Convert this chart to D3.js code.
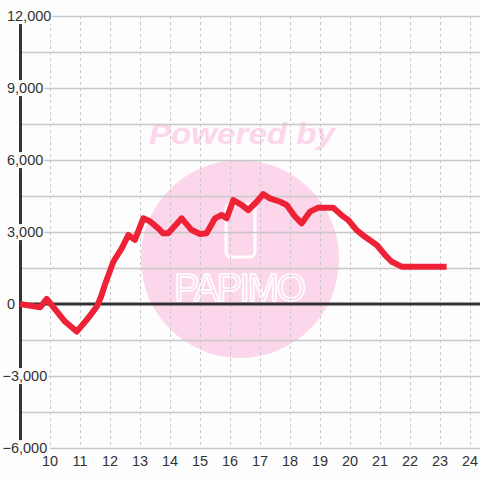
<!DOCTYPE html>
<html>
<head>
<meta charset="utf-8">
<script src="https://cdn.jsdelivr.net/npm/d3@7"></script>
<style>
  html, body { margin: 0; padding: 0; background: #fdfdfd; }
  svg { display: block; }
  text { font-family: "Liberation Sans", Arial, sans-serif; }
</style>
</head>
<body>
<svg width="480" height="480"></svg>
<script>
// hours (decimal) and values
const hours = [9.00, 9.67, 9.89, 10.28, 10.50, 10.89, 11.22, 11.56, 11.70, 11.83,
  12.11, 12.39, 12.61, 12.83, 13.11, 13.33, 13.61, 13.77, 13.94, 14.39,
  14.72, 15.00, 15.22, 15.50, 15.72, 15.89, 16.11, 16.39, 16.61, 16.89,
  17.11, 17.33, 17.67, 17.89, 18.17, 18.39, 18.67, 18.94, 19.44, 19.78,
  19.94, 20.22, 20.50, 20.89, 21.17, 21.39, 21.72, 23.22];
const values = [0, -140, 210, -390, -730, -1150, -670, -110, 300, 800,
  1760, 2320, 2875, 2670, 3570, 3450, 3150, 2945, 2945, 3570,
  3080, 2915, 2945, 3570, 3710, 3570, 4330, 4125, 3915, 4260,
  4580, 4400, 4260, 4125, 3640, 3360, 3850, 4015, 4015, 3640,
  3500, 3080, 2800, 2460, 2040, 1760, 1555, 1555];
const xTicks = [10, 11, 12, 13, 14, 15, 16, 17, 18, 19, 20, 21, 22, 23, 24];
const yGrid = [-6000, -4500, -3000, -1500, 0, 1500, 3000, 4500, 6000, 7500, 9000, 10500, 12000];
const yLabels = [-6000, -3000, 0, 3000, 6000, 9000, 12000];

let svg = d3.select("svg");
const bg = "#fdfdfd";

let x = d3.scaleLinear().domain([9, 24.333]).range([20, 480]);
let y = d3.scaleLinear().domain([-6000, 12000]).range([448, 16]);

const data = hours.map((h, i) => ({ h: h, v: values[i] }));

// watermark
let wm = svg.append("g");
wm.append("circle").attr("cx", 240).attr("cy", 259).attr("r", 99).attr("fill", "#fcd6ea");
wm.append("text")
    .attr("x", 242).attr("y", 144)
    .attr("text-anchor", "middle")
    .attr("font-size", 29).attr("font-weight", "bold").attr("font-style", "italic")
    .attr("textLength", 186).attr("lengthAdjust", "spacingAndGlyphs")
    .attr("fill", "#fcd6ea")
    .text("Powered by");
wm.append("rect")
    .attr("x", 226).attr("y", 204).attr("width", 29).attr("height", 53).attr("rx", 5)
    .attr("fill", "none").attr("stroke", "#ffffff").attr("stroke-width", 3);
wm.append("text")
    .attr("x", 240).attr("y", 301)
    .attr("text-anchor", "middle")
    .attr("font-size", 38)
    .attr("font-family", "'DejaVu Sans', sans-serif")
    .attr("textLength", 132).attr("lengthAdjust", "spacing")
    .attr("fill", "none").attr("stroke", "#ffffff").attr("stroke-width", 1.6)
    .text("PAPIMO");

// vertical dashed grid
svg.append("g").selectAll("line")
    .data(xTicks)
    .enter().append("line")
    .attr("x1", d => x(d) + 0.5).attr("x2", d => x(d) + 0.5)
    .attr("y1", y(12000)).attr("y2", y(-6000))
    .attr("stroke", "#c8c8c8").attr("stroke-dasharray", "3,3");

// horizontal grid
svg.append("g").selectAll("line")
    .data(yGrid.filter(d => d !== 0))
    .enter().append("line")
    .attr("x1", d => d === -6000 ? 50 : 20).attr("x2", 480)
    .attr("y1", d => y(d) + 0.5).attr("y2", d => y(d) + 0.5)
    .attr("stroke", "#c8c8c8").attr("stroke-width", 1.5);

// y axis line and zero line
svg.append("line")
    .attr("x1", 20.5).attr("x2", 20.5)
    .attr("y1", y(12000)).attr("y2", y(-6000))
    .attr("stroke", "#333").attr("stroke-width", 3);
svg.append("line")
    .attr("x1", 20).attr("x2", 480)
    .attr("y1", y(0)).attr("y2", y(0))
    .attr("stroke", "#333").attr("stroke-width", 3);

// series line
let line = d3.line().x(d => x(d.h)).y(d => y(d.v));
svg.append("path")
    .datum(data)
    .attr("d", line)
    .attr("fill", "none")
    .attr("stroke", "#ee2236")
    .attr("stroke-width", 6)
    .attr("stroke-linejoin", "round");

// y labels with background boxes
const fmt = d3.format(",");
let yl = svg.append("g").selectAll("g")
    .data(yLabels)
    .enter().append("g");
yl.append("text")
    .attr("x", d => d < 0 ? 2.5 : 7)
    .attr("y", d => y(d))
    .attr("dy", "0.35em")
    .attr("font-size", 14.5)
    .attr("fill", "#333")
    .text(d => fmt(d));
yl.each(function () {
    let g = d3.select(this);
    let b = g.select("text").node().getBBox();
    g.insert("rect", "text")
        .attr("x", b.x - 1).attr("y", b.y)
        .attr("width", b.width + 2).attr("height", b.height)
        .attr("fill", bg);
});

// x labels
svg.append("g").selectAll("text")
    .data(xTicks)
    .enter().append("text")
    .attr("x", d => x(d))
    .attr("y", 461)
    .attr("dy", "0.35em")
    .attr("text-anchor", "middle")
    .attr("font-size", 14.5)
    .attr("fill", "#333")
    .text(d => d);
</script>
</body>
</html>
